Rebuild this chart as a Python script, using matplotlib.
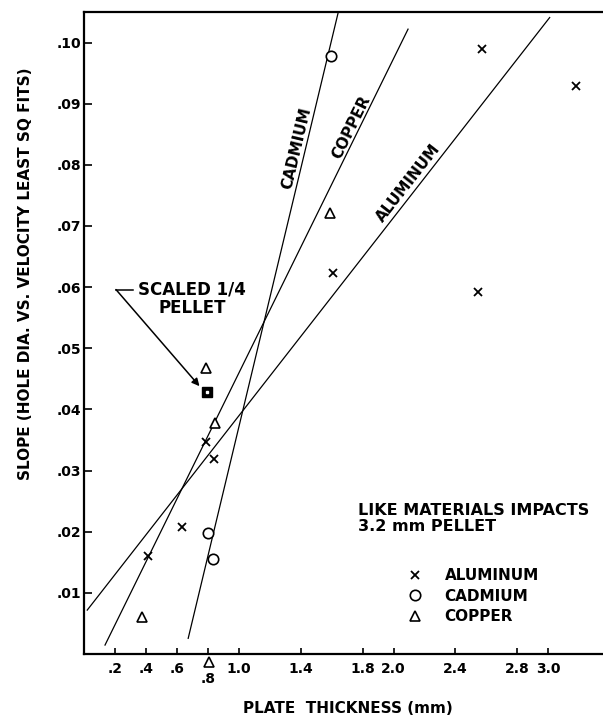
import numpy as np
import matplotlib
matplotlib.use('Agg')
import matplotlib.pyplot as plt
from matplotlib.transforms import ScaledTranslation

plt.rcParams['font.family'] = ['DejaVu Sans']
plt.rcParams['font.weight'] = 'bold'

# measured points (plate thickness mm, slope)
al_x = [0.414, 0.630, 0.787, 0.836, 1.610, 2.547, 2.575, 3.178]
al_y = [0.0160, 0.0208, 0.0347, 0.0319, 0.0623, 0.0592, 0.0989, 0.0929]
cd_x = [0.802, 0.834, 1.593]
cd_y = [0.0197, 0.0155, 0.0978]
cu_x = [0.371, 0.808, 0.845, 0.787, 1.588]
cu_y = [0.0061, -0.0013, 0.0378, 0.0468, 0.0722]
pellet_x = [0.793]
pellet_y = [0.0428]

# fitted lines, end points
al_fit_x = [0.019, 3.010]
al_fit_y = [0.00717, 0.1041]
cd_fit_x = [0.672, 1.642]
cd_fit_y = [0.00255, 0.1049]
cu_fit_x = [0.134, 2.094]
cu_fit_y = [0.00145, 0.1022]

xticks = [0.2, 0.4, 0.6, 0.8, 1.0, 1.4, 1.8, 2.0, 2.4, 2.8, 3.0]
xticklabels = ['.2', '.4', '.6', '.8', '1.0', '1.4', '1.8', '2.0', '2.4', '2.8', '3.0']
yticks = [0.01, 0.02, 0.03, 0.04, 0.05, 0.06, 0.07, 0.08, 0.09, 0.10]
yticklabels = ['.01', '.02', '.03', '.04', '.05', '.06', '.07', '.08', '.09', '.10']

fig = plt.figure(figsize=(6.03, 7.16), dpi=100)
ax = fig.add_axes([0.1398, 0.0867, 0.8602, 0.8965])
ax.set_xlim(0, 3.355)
ax.set_ylim(0, 0.105)

for s in ['top', 'left', 'bottom']:
    ax.spines[s].set_linewidth(1.6)
ax.spines['right'].set_visible(False)

ax.set_xticks(xticks)
ax.set_xticklabels(xticklabels)
ax.set_yticks(yticks)
ax.set_yticklabels(yticklabels)
ax.tick_params(axis='x', direction='in', length=4, width=1.2, labelsize=10, pad=6)
ax.tick_params(axis='y', direction='in', length=6, width=1.2, labelsize=10, pad=2)
# the .8 label sits lower than the others
lab8 = ax.get_xticklabels()[3]
lab8.set_transform(lab8.get_transform() + ScaledTranslation(0, -7 / 72, fig.dpi_scale_trans))

lw = 0.9
ax.plot(al_fit_x, al_fit_y, color='black', lw=lw)
ax.plot(cd_fit_x, cd_fit_y, color='black', lw=lw)
ax.plot(cu_fit_x, cu_fit_y, color='black', lw=lw)

h_al, = ax.plot(al_x, al_y, 'x', color='black', ms=5.5, mew=1.3, ls='none', label='ALUMINUM')
h_cd, = ax.plot(cd_x, cd_y, 'o', mfc='white', mec='black', ms=7.5, mew=1.2, ls='none',
                label='CADMIUM', clip_on=False)
h_cu, = ax.plot(cu_x, cu_y, '^', mfc='white', mec='black', ms=7.5, mew=1.2, ls='none',
                label='COPPER', clip_on=False, zorder=5)
ax.plot(pellet_x, pellet_y, 's', color='black', ms=7, zorder=6)
ax.plot(pellet_x, pellet_y, 's', color='white', ms=2, zorder=7)

# labels along the fitted lines
def line_label(text, fx, fy, px, py):
    p = ax.transData.transform(np.column_stack([fx, fy]))
    ang = np.degrees(np.arctan2(p[1, 1] - p[0, 1], p[1, 0] - p[0, 0]))
    ax.text(px, py, text, rotation=ang, rotation_mode='anchor', ha='center', va='center',
            fontsize=11, fontweight='bold')

line_label('CADMIUM', cd_fit_x, cd_fit_y, 1.373, 0.0828)
line_label('COPPER', cu_fit_x, cu_fit_y, 1.728, 0.0861)
line_label('ALUMINUM', al_fit_x, al_fit_y, 2.094, 0.0771)

# scaled pellet note
note_xy = (0.696, 0.0581)
vertex = (0.205, 0.0596)
tick_end = 0.317
tip = (0.745, 0.0438)
ax.text(note_xy[0], note_xy[1], 'SCALED 1/4\nPELLET', ha='center', va='center',
        multialignment='center', fontsize=12, fontweight='bold', linespacing=1.0)
ax.plot([vertex[0], tick_end], [vertex[1], vertex[1]], color='black', lw=1.1)
ax.annotate('', xy=tip, xytext=vertex,
            arrowprops=dict(arrowstyle='-|>', color='black', lw=1.1, mutation_scale=11,
                            shrinkA=0, shrinkB=0))

ax.text(0.5277, 0.2112, 'LIKE MATERIALS IMPACTS\n3.2 mm PELLET', transform=ax.transAxes,
        ha='left', va='center', fontsize=11.5, fontweight='bold', linespacing=1.05)
ax.legend(handles=[h_al, h_cd, h_cu], loc='upper left', bbox_to_anchor=(0.609, 0.145),
          frameon=False, borderpad=0, handlelength=1.0, handletextpad=1.4,
          labelspacing=0.35, prop=dict(size=11, weight='bold'))

ax.set_xlabel('PLATE  THICKNESS (mm)', fontsize=11, fontweight='bold')
ax.set_ylabel('SLOPE (HOLE DIA. VS. VELOCITY LEAST SQ FITS)', fontsize=11, fontweight='bold')
ax.xaxis.label.set_va('center')
ax.yaxis.label.set_va('center')
ax.xaxis.set_label_coords(0.508, -0.0847)
ax.yaxis.set_label_coords(-0.1124, 0.5918)

fig.savefig('out.png', dpi=100)
